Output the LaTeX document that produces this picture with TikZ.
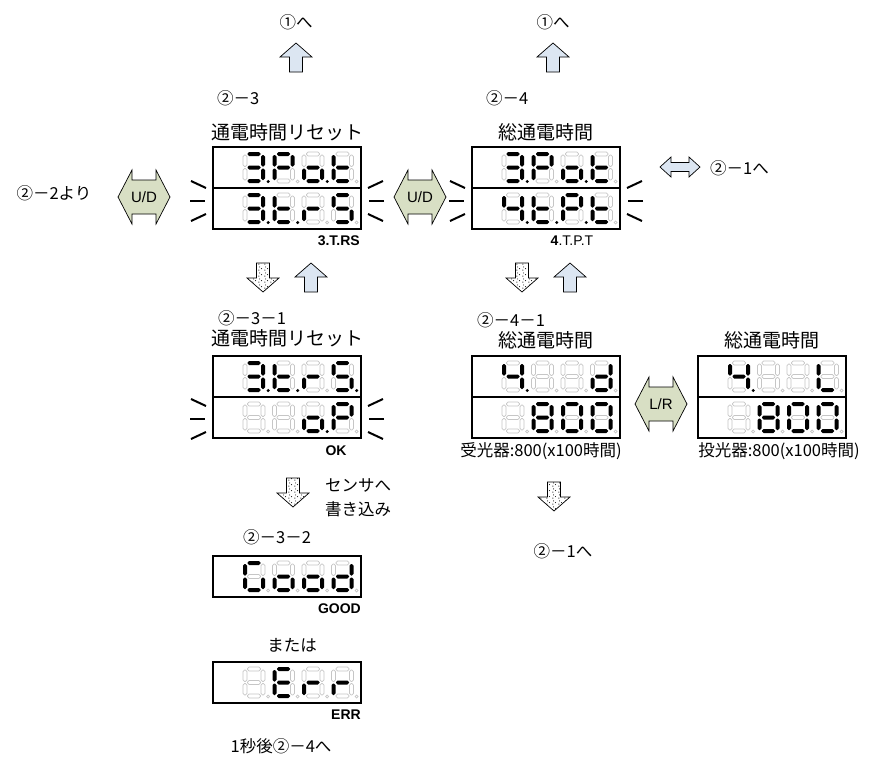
\documentclass[tikz,border=0pt]{standalone}
\usepackage{fontspec}
\setmainfont{Liberation Sans}
\newfontfamily\jp{Noto Sans CJK JP}
\usetikzlibrary{patterns}
\definecolor{ublue}{RGB}{220,230,242}
\definecolor{udgreen}{RGB}{216,223,196}
\definecolor{segoffc}{RGB}{198,198,198}
\pgfdeclarepatternformonly{sparsedots}{\pgfpointorigin}{\pgfqpoint{6pt}{6pt}}{\pgfqpoint{6pt}{6pt}}{%
  \pgfpathcircle{\pgfqpoint{1pt}{1pt}}{0.6pt}%
  \pgfpathcircle{\pgfqpoint{4pt}{2.6pt}}{0.6pt}%
  \pgfpathcircle{\pgfqpoint{1.8pt}{4.6pt}}{0.6pt}%
  \pgfusepath{fill}}
% segment patterns a b c d e f g
\def\SGthree{1111001}
\def\SGP{1100111}
\def\SGo{0011101}
\def\SGt{0001111}
\def\SGr{0000101}
\def\SGS{1011011}
\def\SGfour{0110011}
\def\SGd{0111101}
\def\SGL{0001110}
\def\SGeight{1111111}
\def\SGzero{1111110}
\def\SGG{1011110}
\def\SGE{1001111}
\def\SGblank{0000000}
\newcommand\sgm[2]{\ifnum#1=1\relax\path[segon] #2;\else\path[segoff] #2;\fi}
\newcommand\sevseg[9]{%
  \begin{scope}[shift={(#9)}]
  \sgm{#1}{(4.5,0) rectangle (17.5,4)}
  \sgm{#2}{(18,3) rectangle (22,14.5)}
  \sgm{#3}{(18,16.5) rectangle (22,28)}
  \sgm{#4}{(4.5,27) rectangle (17.5,31)}
  \sgm{#5}{(0,16.5) rectangle (4,28)}
  \sgm{#6}{(0,3) rectangle (4,14.5)}
  \sgm{#7}{(4.5,13.5) rectangle (17.5,17.5)}
  \ifnum#8=1\relax \fill (25.2,29.5) circle (1.7);\else \draw[segoff] (25.2,29.5) circle (1.5);\fi
  \end{scope}}
\newcommand\dgt[3]{\expandafter\sevseg#1{#2}{#3}}
\newcommand\drow[9]{\begin{scope}[shift={(#1)}]\dgt{#2}{#3}{30,5}\dgt{#4}{#5}{59.5,5}\dgt{#6}{#7}{89,5}\dgt{#8}{#9}{118.5,5}\end{scope}}
\newcommand\uparr[2]{\draw[upar] (#1-6.5,#2+29) -- (#1-6.5,#2+14) -- (#1-16,#2+14) -- (#1,#2) -- (#1+16,#2+14) -- (#1+6.5,#2+14) -- (#1+6.5,#2+29) -- cycle;}
\newcommand\dnarr[2]{\draw[dnar] (#1-6.5,#2) -- (#1-6.5,#2+15) -- (#1-16,#2+15) -- (#1,#2+29) -- (#1+16,#2+15) -- (#1+6.5,#2+15) -- (#1+6.5,#2) -- cycle;}
\newcommand\hdarr[7]{\draw[#1] (#2-#4,#3) -- (#2-#4+#5,#3-#7) -- (#2-#4+#5,#3-#6) -- (#2+#4-#5,#3-#6) -- (#2+#4-#5,#3-#7) -- (#2+#4,#3) -- (#2+#4-#5,#3+#7) -- (#2+#4-#5,#3+#6) -- (#2-#4+#5,#3+#6) -- (#2-#4+#5,#3+#7) -- cycle;}
\newcommand\flk[3]{%
  \draw[flick] (#1-22,#3-20) -- (#1-7,#3-13);
  \draw[flick] (#1-23,#3) -- (#1-8,#3);
  \draw[flick] (#1-22,#3+20) -- (#1-7,#3+13);
  \draw[flick] (#2+22,#3-20) -- (#2+7,#3-13);
  \draw[flick] (#2+23,#3) -- (#2+8,#3);
  \draw[flick] (#2+22,#3+20) -- (#2+7,#3+13);}
\begin{document}
\begin{tikzpicture}[x=1pt,y=-1pt,
  segon/.style={fill=black, rounded corners=1.6pt},
  segoff/.style={draw=segoffc, line width=0.7pt, rounded corners=1.6pt},
  dispbox/.style={draw, line width=1.1pt, fill=white, minimum width=148pt, inner sep=0pt},
  upar/.style={draw, fill=ublue, line width=0.7pt, line join=miter},
  dnar/.style={draw, line width=0.7pt, pattern=sparsedots},
  udar/.style={draw, fill=udgreen, line width=0.7pt},
  flick/.style={line width=2pt},
  jt/.style={font=\jp\fontsize{16.5}{19}\selectfont, inner sep=0pt},
  tt/.style={font=\jp\fontsize{19}{22}\selectfont, inner sep=0pt},
  bl/.style={font=\bfseries\fontsize{14}{16}\selectfont, inner sep=0pt},
  ud/.style={font=\fontsize{15}{17}\selectfont, inner sep=0pt}]
\useasboundingbox (0,0) rectangle (873,763);
\fill[white] (0,0) rectangle (873,763);
% top
\node[jt] (to1a) at (296,22) {①へ};
\node[jt] (to1b) at (553,22) {①へ};
\uparr{296}{43}
\uparr{553}{43}
\node[jt,anchor=west] (s23) at (217,98) {②－3};
\node[jt,anchor=west] (s24) at (486,98) {②－4};
\node[tt] (h1) at (287,132) {通電時間リセット};
\node[tt] (h2) at (546,132) {総通電時間};
% box 1 and 2
\node[dispbox, minimum height=82pt] (b1) at (287,188) {};
\draw[line width=1.1pt] (b1.west) -- (b1.east);
\node[dispbox, minimum height=82pt] (b2) at (546,188) {};
\draw[line width=1.1pt] (b2.west) -- (b2.east);
\drow{213,147}{\SGthree}{1}{\SGP}{0}{\SGo}{1}{\SGt}{0}
\drow{213,188}{\SGthree}{1}{\SGt}{1}{\SGr}{0}{\SGS}{0}
\drow{472,147}{\SGthree}{1}{\SGP}{0}{\SGo}{1}{\SGt}{0}
\drow{472,188}{\SGfour}{1}{\SGt}{1}{\SGP}{1}{\SGt}{0}
\flk{213}{361}{201}
\flk{472}{620}{201}
\node[bl,anchor=east] (l1) at (360,241) {3.T.RS};
\node[font=\fontsize{14}{16}\selectfont, inner sep=0pt] (l2) at (572,241) {\textbf{4}.T.P.T};
\hdarr{udar}{144}{197}{26}{14}{17}{27}
\node[ud] (ud1) at (144,197) {U/D};
\hdarr{udar}{420}{197}{26}{14}{17}{27}
\node[ud] (ud2) at (420,197) {U/D};
\node[jt] (from22) at (54,193) {②－2より};
\hdarr{upar}{680}{167}{20}{11}{4.5}{10}
\node[jt,anchor=west] (to21a) at (710,168) {②－1へ};
% pair arrows
\dnarr{263}{263}
\uparr{311}{263}
\dnarr{522}{263}
\uparr{570}{263}
% box 3
\node[jt,anchor=west] (s231) at (218,318) {②－3－1};
\node[tt] (h3) at (287,338) {通電時間リセット};
\node[dispbox, minimum height=82pt] (b3) at (287,397) {};
\draw[line width=1.1pt] (b3.west) -- (b3.east);
\drow{213,356}{\SGthree}{1}{\SGt}{1}{\SGr}{0}{\SGS}{1}
\drow{213,397}{\SGblank}{0}{\SGblank}{0}{\SGo}{1}{\SGP}{0}
\flk{213}{361}{419}
\node[bl] (l3) at (336,451) {OK};
% box 4 and 5
\node[jt,anchor=west] (s241) at (477,320) {②－4－1};
\node[tt] (h4) at (546,340) {総通電時間};
\node[tt] (h5) at (772,340) {総通電時間};
\node[dispbox, minimum height=82pt] (b4) at (546,397) {};
\draw[line width=1.1pt] (b4.west) -- (b4.east);
\node[dispbox, minimum height=82pt] (b5) at (772,397) {};
\draw[line width=1.1pt] (b5.west) -- (b5.east);
\drow{472,356}{\SGfour}{1}{\SGblank}{0}{\SGblank}{0}{\SGd}{0}
\drow{472,397}{\SGblank}{0}{\SGeight}{0}{\SGzero}{0}{\SGzero}{0}
\drow{698,356}{\SGfour}{1}{\SGblank}{0}{\SGblank}{0}{\SGL}{0}
\drow{698,397}{\SGblank}{0}{\SGeight}{0}{\SGzero}{0}{\SGzero}{0}
\hdarr{udar}{661}{404}{26}{14}{17}{27}
\node[ud] (lr) at (661,404) {L/R};
\node[jt] (l4) at (541,451) {受光器:800(x100時間)};
\node[jt] (l5) at (779,451) {投光器:800(x100時間)};
\dnarr{554}{482}
\node[jt] (to21b) at (563,551) {②－1へ};
% write
\dnarr{293}{478}
\node[jt,anchor=west] (w1) at (325,485) {センサへ};
\node[jt,anchor=west] (w2) at (325,509) {書き込み};
% box 6, 7
\node[jt,anchor=west] (s232) at (243,537) {②－3－2};
\node[dispbox, minimum height=41pt] (b6) at (287,576.5) {};
\drow{213,556}{\SGG}{0}{\SGo}{0}{\SGo}{0}{\SGd}{0}
\node[bl,anchor=east] (l6) at (361,609) {GOOD};
\node[jt] (or) at (292,645) {または};
\node[dispbox, minimum height=41pt] (b7) at (287,682.5) {};
\drow{213,662}{\SGblank}{0}{\SGE}{0}{\SGr}{0}{\SGr}{0}
\node[bl,anchor=east] (l7) at (361,715) {ERR};
\node[jt] (after) at (281,746) {1秒後②－4へ};
\end{tikzpicture}
\end{document}
